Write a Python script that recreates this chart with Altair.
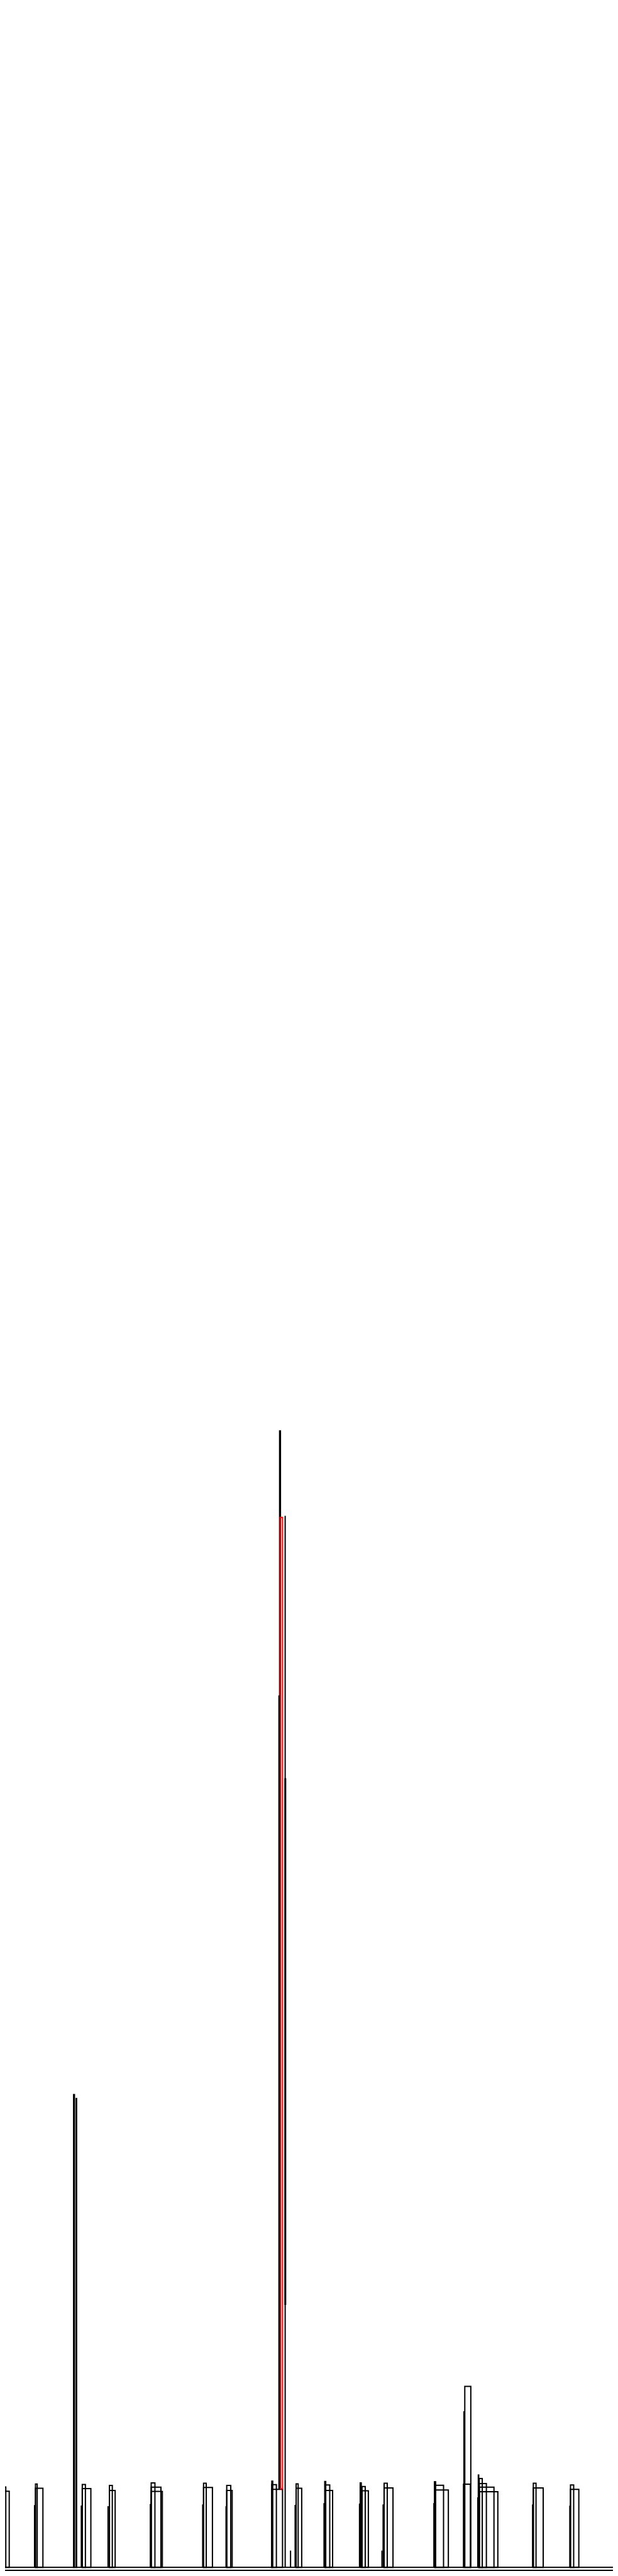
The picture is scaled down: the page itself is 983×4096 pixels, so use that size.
import altair as alt
import pandas as pd

# Outlined bars: left, right, bottom, top (values measured above the baseline), colour group
rect_x  = [0.5, 3, 3, 82.7, 82.7, 171.5, 177.5, 191.7, 191.7, 255, 255,
           352.3, 352.3, 352.3, 474.3, 474.3, 528.3, 528.3,
           633.3, 633.3, 633.3, 651.5, 652.7,
           690, 690, 756.7, 758.5, 758.5, 839.3, 843.5, 843.5, 895, 895,
           1012.3, 1014, 1014, 1083, 1080,
           1114.5, 1116.7, 1116.7, 1116.7, 1116.7,
           1242.7, 1242.7, 1329.3, 1329.3, 1439.5, 1.5]
rect_x2 = [1.5, 13.5, 21.5, 86.7, 100, 173.5, 178.5, 199, 211.7, 261.7, 268.3,
           361, 375, 378.3, 480.5, 495, 537.7, 541,
           635.5, 644, 658.3, 653.5, 658.3,
           694.7, 703, 759, 768.3, 775, 841.8, 851, 858.3, 902.3, 915.7,
           1015, 1033.5, 1044.7, 1097, 1096,
           1115.5, 1123.7, 1133.3, 1151, 1160,
           1249, 1265.7, 1336.7, 1348.7, 1450, 1460]
rect_y  = [0, 0, 0, 0, 0, 0, 0, 0, 0, 0, 0,
           0, 0, 0, 0, 0, 0, 0,
           0, 0, 0, 182, 183,
           0, 0, 0, 0, 0, 0, 0, 0, 0, 0,
           0, 0, 0, 0, 0,
           0, 0, 0, 0, 0,
           0, 0, 0, 0, 0, -7]
rect_y2 = [196, 187, 177, 194, 184, 1101, 1092, 193, 183.5, 190.7, 179,
           196.7, 186.7, 176.7, 196, 186, 190.7, 179,
           200.7, 192.7, 181.7, 2647, 2445.5,
           194.3, 184, 200, 191.7, 179, 196.7, 188.3, 178.3, 195.7, 185,
           199.3, 191, 180, 421.5, 193.5,
           215, 206.7, 195, 186.7, 176,
           195.7, 185, 191.7, 181.7, 194, 0]
rect_c  = ["black"] * 22 + ["red"] + ["black"] * 26

# Single edge strokes: x, bottom, top
rule_x  = [80.5, 189.5, 251.7, 350.3, 472.3, 526.7, 650, 664.5, 677, 687.7,
           755, 837.7, 890, 892.7, 1011, 1081, 1113.3, 1241, 1327.7, 1438.5]
rule_y  = [0, 0, 0, 0, 0, 0, 182, 0, 0, 0,
           0, 0, 0, 0, 0, 0, 0, 0, 0, 0]
rule_y2 = [145, 144, 142.5, 147.5, 146.5, 142.5, 2031, 2449, 39, 145.5,
           149.5, 148.5, 39, 146.5, 149.5, 363.5, 163, 146.5, 143.5, 146.5]

# Solid block
block_x, block_x2, block_y, block_y2 = [662.7], [667], [611], [1838]

rects = pd.DataFrame({"x": rect_x, "x2": rect_x2, "y": rect_y, "y2": rect_y2, "c": rect_c})
rules = pd.DataFrame({"x": rule_x, "y": rule_y, "y2": rule_y2})
blocks = pd.DataFrame({"x": block_x, "x2": block_x2, "y": block_y, "y2": block_y2})

xs = alt.Scale(domain=[11.72, 1428.28], nice=False, zero=False)
ys = alt.Scale(domain=[-8.5, 5968.06], nice=False, zero=False)

rect_layer = alt.Chart(rects).mark_rect(filled=False, strokeWidth=2, clip=True).encode(
    x=alt.X("x:Q", scale=xs, axis=None),
    x2="x2:Q",
    y=alt.Y("y:Q", scale=ys, axis=None),
    y2="y2:Q",
    stroke=alt.Stroke("c:N", scale=alt.Scale(domain=["black", "red"], range=["#000000", "#ff0000"]), legend=None),
)

rule_layer = alt.Chart(rules).mark_rule(strokeWidth=2, color="#000000", clip=True).encode(
    x=alt.X("x:Q", scale=xs, axis=None),
    y=alt.Y("y:Q", scale=ys, axis=None),
    y2="y2:Q",
)

block_layer = alt.Chart(blocks).mark_rect(color="#000000", clip=True).encode(
    x=alt.X("x:Q", scale=xs, axis=None),
    x2="x2:Q",
    y=alt.Y("y:Q", scale=ys, axis=None),
    y2="y2:Q",
)

chart = alt.layer(rect_layer, rule_layer, block_layer).properties(
    width=967, height=4080, padding=0,
    autosize=alt.AutoSizeParams(type="none"),
).configure_view(stroke=None)

chart.save("out.html", embed_options={"renderer": "svg", "actions": False})
